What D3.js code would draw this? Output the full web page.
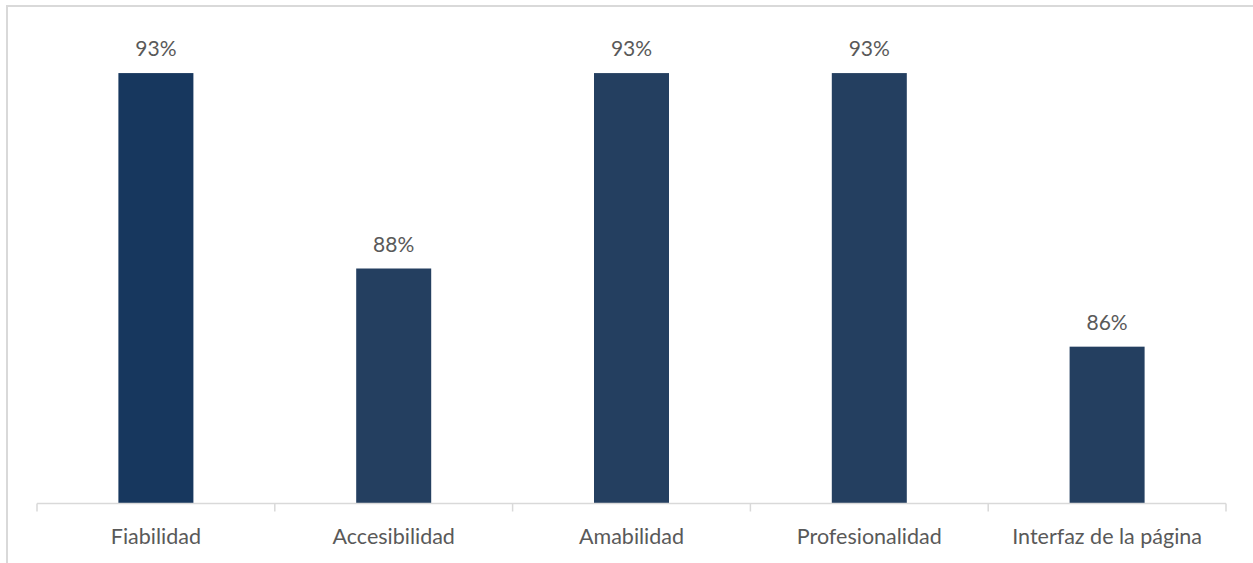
<!DOCTYPE html>
<html>
<head>
<meta charset="utf-8">
<script src="https://cdn.jsdelivr.net/npm/d3@7"></script>
<style>
  html, body { margin: 0; padding: 0; background: #fff; }
  svg { display: block; }
</style>
</head>
<body>
<svg id="chart" width="1253" height="563"></svg>
<script>
// Satisfaction scores per attribute
const categories = ["Fiabilidad", "Accesibilidad", "Amabilidad", "Profesionalidad", "Interfaz de la página"];
const values = [93, 88, 93, 93, 86];
const barColors = ["#17375E", "#243F60", "#243F60", "#243F60", "#243F60"];

const W = 1253, H = 563;
const margin = { left: 37, right: 27, top: 34, bottom: 61 };

const svg = d3.select("#chart");

// outer chart frame
svg.append("rect")
  .attr("x", 7).attr("y", 6)
  .attr("width", W + 10).attr("height", H + 10)
  .attr("fill", "none")
  .attr("stroke", "#d9d9d9")
  .attr("stroke-width", 2);

const x = d3.scaleBand()
  .domain(categories)
  .range([margin.left, W - margin.right])
  .paddingInner(0.6846)
  .paddingOuter(0.3423);

const y = d3.scaleLinear()
  .domain([82, 94])
  .range([H - margin.bottom + 1, margin.top]);

// bars
svg.append("g")
  .selectAll("rect")
  .data(values)
  .join("rect")
  .attr("x", (d, i) => x(categories[i]))
  .attr("y", d => y(d))
  .attr("width", x.bandwidth())
  .attr("height", d => y(82) - y(d))
  .attr("fill", (d, i) => barColors[i]);

const font = "Lato, 'Open Sans', sans-serif";

// value labels
svg.append("g")
  .selectAll("text")
  .data(values)
  .join("text")
  .attr("x", (d, i) => x(categories[i]) + x.bandwidth() / 2)
  .attr("y", d => y(d) - 17)
  .attr("text-anchor", "middle")
  .attr("font-family", font)
  .attr("font-size", 21)
  .attr("fill", "#595959")
  .text(d => d + "%");

// category axis with ticks at band boundaries
const axisY = y(82) + 0.5;
const xr = x.range();
const ax = svg.append("g");
ax.append("line")
  .attr("x1", xr[0]).attr("x2", xr[1])
  .attr("y1", axisY).attr("y2", axisY)
  .attr("stroke", "#d9d9d9").attr("stroke-width", 1.5);

const bounds = d3.range(categories.length + 1).map(i => xr[0] + i * (xr[1] - xr[0]) / categories.length);
ax.selectAll("line.tick")
  .data(bounds)
  .join("line")
  .attr("class", "tick")
  .attr("x1", d => d).attr("x2", d => d)
  .attr("y1", axisY).attr("y2", axisY + 8)
  .attr("stroke", "#d9d9d9").attr("stroke-width", 1.5);

ax.selectAll("text")
  .data(categories)
  .join("text")
  .attr("x", d => x(d) + x.bandwidth() / 2)
  .attr("y", axisY + 40)
  .attr("text-anchor", "middle")
  .attr("font-family", font)
  .attr("font-size", 21.5)
  .attr("fill", "#595959")
  .text(d => d);
</script>
</body>
</html>
